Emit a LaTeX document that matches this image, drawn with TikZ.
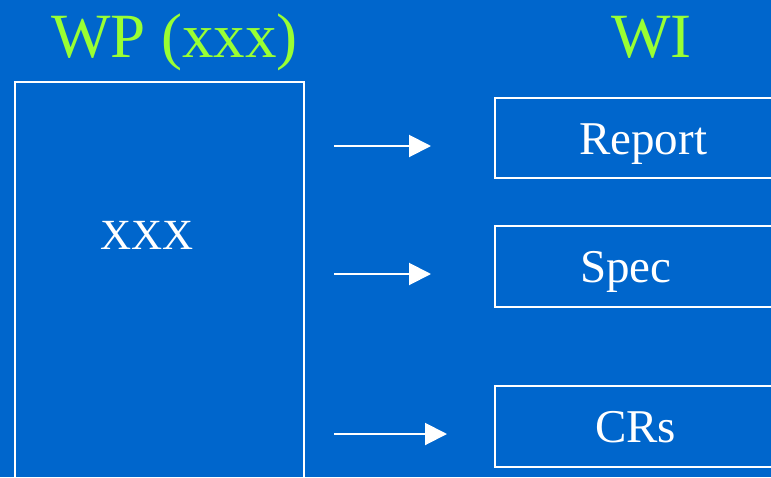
\documentclass[tikz,border=0pt]{standalone}
\usepackage{fontspec}
\setmainfont{Liberation Serif}
\usetikzlibrary{arrows.meta}
\definecolor{bg}{HTML}{0066CC}
\definecolor{ttl}{HTML}{99FF33}
\tikzset{
  box/.style={draw=white, line width=2pt, rectangle, inner sep=0pt, outer sep=0pt},
  lbl/.style={text=white, font=\fontsize{47}{47}\selectfont, anchor=base west, inner sep=0pt},
  ttlstyle/.style={text=ttl, font=\fontsize{63}{63}\selectfont, anchor=base west, inner sep=0pt},
  arr/.style={draw=white, line width=2pt, -{Triangle[length=22pt,width=22pt]}}
}
\begin{document}
\begin{tikzpicture}[x=1pt,y=-1pt]
\fill[bg] (0,0) rectangle (771,477);
\useasboundingbox (0,0) rectangle (771,477);
% titles
\node[ttlstyle] (t1) at (51,57) {WP (xxx)};
\node[ttlstyle] (t2) at (611,57) {WI};
% left box
\node[box, minimum width=289pt, minimum height=440pt] (wp) at (159.5,302) {};
\node[lbl, font=\fontsize{43}{43}\selectfont] (wpx) at (100,249) {XXX};
% right boxes
\node[box, minimum width=405pt, minimum height=80pt] (rep) at (697.5,138) {};
\node[lbl] (repl) at (579,154) {Report};
\node[box, minimum width=405pt, minimum height=81pt] (spec) at (697.5,266.5) {};
\node[lbl] (specl) at (580,282) {Spec};
\node[box, minimum width=405pt, minimum height=81pt] (crs) at (697.5,426.5) {};
\node[lbl] (crsl) at (595,442) {CRs};
% arrows
\draw[arr, shorten <=30pt, shorten >=64pt] (wp.east |- 0,146) -- (rep.west |- 0,146);
\draw[arr, shorten <=30pt, shorten >=64pt] (wp.east |- 0,274) -- (spec.west |- 0,274);
\draw[arr, shorten <=30pt, shorten >=48pt] (wp.east |- 0,434) -- (crs.west |- 0,434);
\end{tikzpicture}
\end{document}
